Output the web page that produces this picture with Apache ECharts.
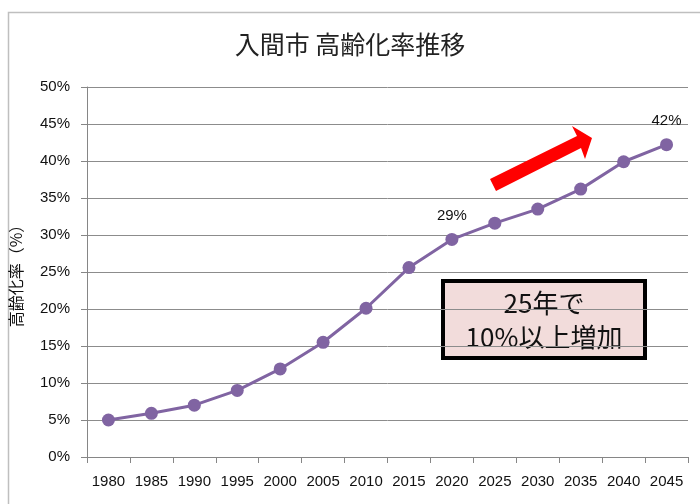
<!DOCTYPE html>
<html><head><meta charset="utf-8">
<script src="https://cdn.jsdelivr.net/npm/echarts@6/dist/echarts.min.js"></script>
<style>html,body{margin:0;padding:0;background:#fff;}#c{width:700px;height:504px;}</style>
</head><body><div id="c"></div>
<script>
const years = ['1980','1985','1990','1995','2000','2005','2010','2015','2020','2025','2030','2035','2040','2045'];
const rates = [5.0, 5.9, 7.0, 9.0, 11.9, 15.5, 20.1, 25.6, 29.4, 31.6, 33.5, 36.2, 39.9, 42.2];
const labeled = {'2020':'29%','2045':'42%'};
const yTicks = {min:0, max:50, interval:5};
const titleText = '入間市 高齢化率推移';
const yName = '高齢化率（%）';
const noteText = '25年で\n10%以上増加';

const latin = '"Liberation Sans", "Noto Sans CJK JP", sans-serif';
const cjk = '"Noto Sans CJK JP", sans-serif';
const chart = echarts.init(document.getElementById('c'));
chart.setOption({
  backgroundColor:'#fff',
  animation:false,
  title:{text:titleText,left:'center',top:27,textStyle:{fontFamily:cjk,fontSize:25,fontWeight:'normal',color:'#222'}},
  grid:{left:86,right:12,top:87,bottom:47},
  xAxis:{type:'category',data:years,boundaryGap:true,
    axisLine:{lineStyle:{color:'#868686',width:1}},
    axisTick:{show:true,length:6,lineStyle:{color:'#868686'}},
    axisLabel:{color:'#111',fontFamily:latin,fontSize:15,margin:17,interval:0}},
  yAxis:{type:'value',min:yTicks.min,max:yTicks.max,interval:yTicks.interval,
    name:yName,nameLocation:'middle',nameGap:63,nameRotate:90,
    nameTextStyle:{fontFamily:cjk,fontSize:16,color:'#111'},
    axisLine:{show:true,lineStyle:{color:'#868686'}},
    axisTick:{show:true,length:6,lineStyle:{color:'#868686'}},
    splitLine:{lineStyle:{color:'#8c8c8c',width:1}},
    axisLabel:{formatter:'{value}%',color:'#111',fontFamily:latin,fontSize:15,margin:17}},
  series:[{type:'line',data:rates,symbol:'circle',symbolSize:13,
    lineStyle:{color:'#8064A2',width:3},itemStyle:{color:'#8064A2'},
    label:{show:true,position:'top',distance:10,fontFamily:latin,fontSize:15,color:'#111',
      formatter:p=>labeled[p.name]||''}}],
  graphic:[
    {type:'rect',left:6,top:10,shape:{width:720,height:520},style:{fill:'none',stroke:'#bfbfbf',lineWidth:1.5},z:-1},
    {type:'polygon',shape:{points:[[490,179],[577,136],[572,126],[592,138],[585,159],[581,148],[496,191]]},style:{fill:'#ff0000'},z:10},
    {type:'group',left:441,top:279,z:10,children:[
      {type:'rect',shape:{x:0,y:0,width:202,height:77},style:{fill:'#F2DCDB',stroke:'#000',lineWidth:4}},
      {type:'text',style:{text:noteText,x:101,y:39,align:'center',verticalAlign:'middle',fontFamily:cjk,fontSize:26,lineHeight:34,fill:'#111'}}
    ]}
  ]
});
</script></body></html>
